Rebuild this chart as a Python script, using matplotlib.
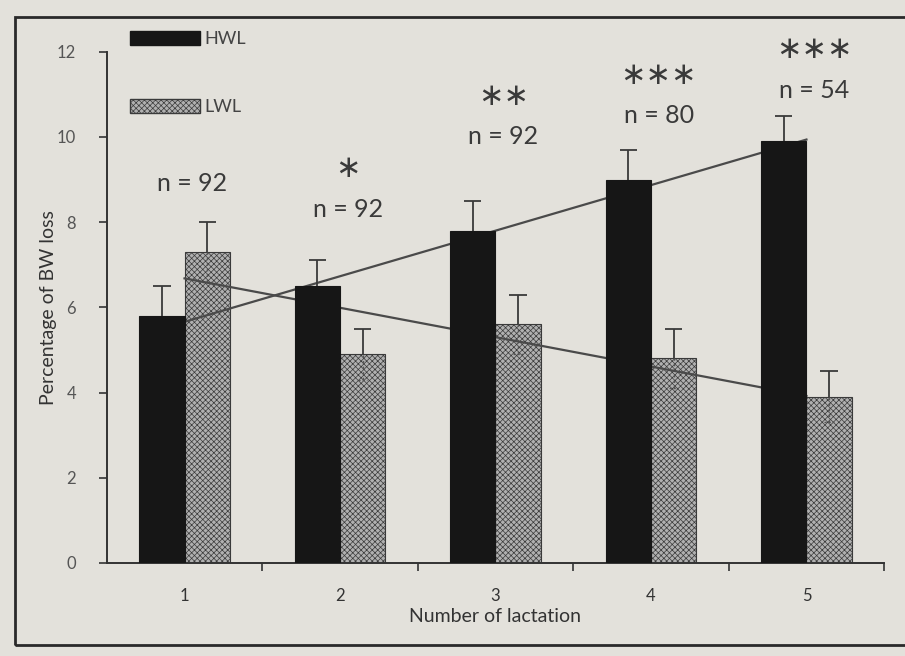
import numpy as np
import matplotlib.pyplot as plt
from matplotlib.patches import Rectangle, Patch

plt.rcParams['font.family'] = ['Lato', 'DejaVu Sans']
plt.rcParams['hatch.color'] = '#737373'
plt.rcParams['hatch.linewidth'] = 0.5

# Body-weight loss by lactation number
lactation = [1, 2, 3, 4, 5]
hwl_mean = [5.8, 6.5, 7.8, 9.0, 9.9]
hwl_err = [0.7, 0.6, 0.7, 0.7, 0.6]
lwl_mean = [7.3, 4.9, 5.6, 4.8, 3.9]
lwl_err = [0.7, 0.6, 0.7, 0.7, 0.6]
n_labels = ['n = 92', 'n = 92', 'n = 92', 'n = 80', 'n = 54']
signif = ['', '\u2217', '\u2217\u2217', '\u2217\u2217\u2217', '\u2217\u2217\u2217']

bg = '#e3e1db'
fig = plt.figure(figsize=(9.05, 6.56), dpi=100, facecolor=bg)
ax = fig.add_axes([0.118, 0.142, 0.859, 0.779], facecolor=bg)

x = np.array(lactation, dtype=float)
w = 0.29
cap = 0.055
ecol = '#3a3a3a'


def upper_error(xpos, mean, err, z):
    mean = np.asarray(mean)
    top = mean + np.asarray(err)
    ax.vlines(xpos, mean, top, colors=ecol, linewidth=1.3, zorder=z)
    ax.hlines(top, xpos - cap, xpos + cap, colors=ecol, linewidth=1.3,
              zorder=z)


# LWL bars sit lowest; the trend lines cross over them but pass behind HWL bars
lx = x + w / 2
ax.bar(lx, lwl_mean, width=w, color='#b0b0b0', edgecolor='#3a3a3a',
       linewidth=0.8, hatch='xxxxxx', zorder=2)
upper_error(lx, lwl_mean, lwl_err, 3)
lwl_low = np.array(lwl_mean) - np.array(lwl_err)
ax.vlines(lx, lwl_low, lwl_mean, colors='#555555', linewidth=1.0,
          linestyles=(0, (2, 2)), zorder=2.4)
ax.hlines(lwl_low, lx - 0.03, lx + 0.03, colors='#555555', linewidth=1.0,
          linestyles=(0, (1.5, 1.5)), zorder=2.4)

for vals in (hwl_mean, lwl_mean):
    k, b = np.polyfit(x, vals, 1)
    ax.plot(x, k * x + b, color='#4a4a4a', linewidth=1.6, zorder=2.5)

hx = x - w / 2
ax.bar(hx, hwl_mean, width=w, color='#161616', edgecolor='#161616',
       linewidth=0.8, zorder=2.8)
upper_error(hx, hwl_mean, hwl_err, 3)

# Sample sizes and significance marks above each group
label_y = [8.9, 8.3, 10.0, 10.5, 11.1]
for xi, ly, nl, s in zip(x, label_y, n_labels, signif):
    ax.text(xi + 0.05, ly, nl, ha='center', va='center', fontsize=18,
            color='#3a3a3a')
    if s:
        ax.text(xi + 0.05, ly + 0.95, s, ha='center', va='center',
                fontsize=22, color='#3a3a3a', family=['DejaVu Sans'])

ax.set_xlim(0.5, 5.5)
ax.set_ylim(0, 12)
ax.set_yticks([0, 2, 4, 6, 8, 10, 12])
ax.set_xticks([1.5, 2.5, 3.5, 4.5, 5.5])
ax.set_xticklabels([])
ax.set_xticks(x, minor=True)
ax.set_xticklabels([str(v) for v in lactation], minor=True)
ax.tick_params(axis='x', which='major', length=6, width=1.2, color='#333333')
ax.tick_params(axis='x', which='minor', length=0, labelsize=12,
               labelcolor='#333333', pad=18)
ax.tick_params(axis='y', length=6, width=1.2, color='#333333', labelsize=12,
               labelcolor='#555555', pad=16)
for side in ('top', 'right'):
    ax.spines[side].set_visible(False)
for side in ('left', 'bottom'):
    ax.spines[side].set_linewidth(1.4)
    ax.spines[side].set_color('#333333')

ax.set_xlabel('Number of lactation', fontsize=14, color='#333333', labelpad=3)
ax.set_ylabel('Percentage of BW loss', fontsize=14, color='#333333',
              labelpad=0)

handles = [Patch(facecolor='#161616', edgecolor='#161616'),
           Patch(facecolor='#b0b0b0', edgecolor='#3a3a3a', hatch='xxxxxx')]
leg = ax.legend(handles, ['HWL', 'LWL'], loc='upper left',
                bbox_to_anchor=(0.009, 1.073), frameon=False, fontsize=13,
                handlelength=3.9, handleheight=0.8, labelspacing=2.9,
                handletextpad=0.2)
for t in leg.get_texts():
    t.set_color('#444444')

# Outer frame around the panel
fig.patches.append(Rectangle((0.017, 0.017), 1.2, 0.957,
                             transform=fig.transFigure, fill=False,
                             edgecolor='#2a2a2a', linewidth=2.0))

fig.savefig('out.png', dpi=100, facecolor=bg)
